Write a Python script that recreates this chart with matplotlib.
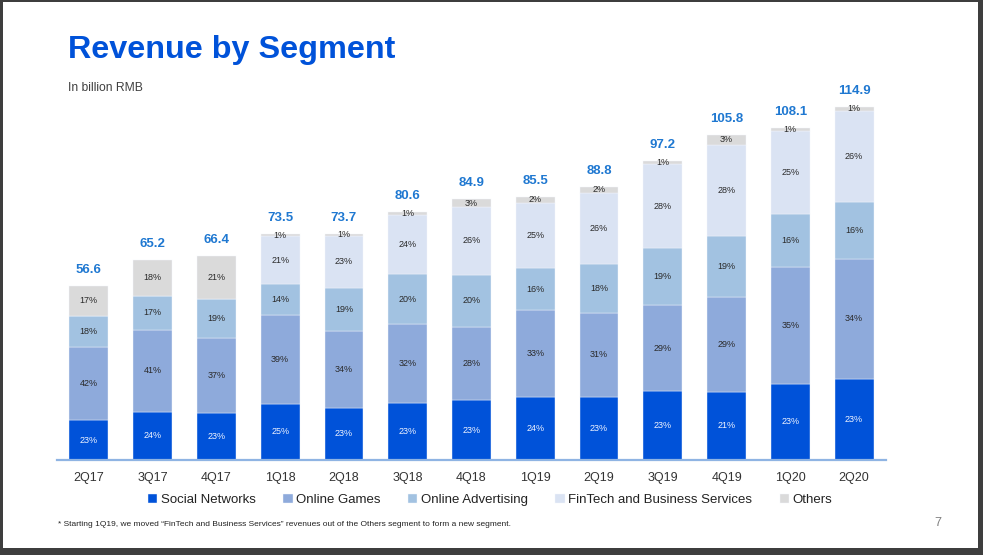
import numpy as np
import matplotlib
matplotlib.use('Agg')
import matplotlib.pyplot as plt
from matplotlib.patches import Rectangle

plt.rcParams['font.family'] = ['Liberation Sans', 'DejaVu Sans']

quarters = ['2Q17', '3Q17', '4Q17', '1Q18', '2Q18', '3Q18', '4Q18',
            '1Q19', '2Q19', '3Q19', '4Q19', '1Q20', '2Q20']
totals = [56.6, 65.2, 66.4, 73.5, 73.7, 80.6, 84.9,
          85.5, 88.8, 97.2, 105.8, 108.1, 114.9]

segments = ['Social Networks', 'Online Games', 'Online Advertising',
            'FinTech and Business Services', 'Others']
social = [23, 24, 23, 25, 23, 23, 23, 24, 23, 23, 21, 23, 23]
games = [42, 41, 37, 39, 34, 32, 28, 33, 31, 29, 29, 35, 34]
advert = [18, 17, 19, 14, 19, 20, 20, 16, 18, 19, 19, 16, 16]
fintech = [0, 0, 0, 21, 23, 24, 26, 25, 26, 28, 28, 25, 26]
others = [17, 18, 21, 1, 1, 1, 3, 2, 2, 1, 3, 1, 1]

colors = ['#0052d9', '#8eaadb', '#a2c2e1', '#dae3f3', '#dadada']
text_colors = ['#f0f4ff', '#2a2a2a', '#2a2a2a', '#2a2a2a', '#2a2a2a']

fig = plt.figure(figsize=(9.83, 5.55), dpi=100, facecolor='#3e3e3e')
fig.patches.append(Rectangle((3 / 983, 7 / 555), 975 / 983, 546 / 555,
                             transform=fig.transFigure, facecolor='white',
                             edgecolor='none', zorder=-10))

ax = fig.add_axes([57 / 983, 95 / 555, 829 / 983, 384 / 555])
ax.set_facecolor('none')
ax.set_zorder(2)

x = np.arange(len(quarters))
tot = np.array(totals)
bottom = np.zeros(len(quarters))
for name, pct, c, tc in zip(segments, [social, games, advert, fintech, others],
                            colors, text_colors):
    pct = np.array(pct, dtype=float)
    h = tot * pct / 100
    ax.bar(x, h, 0.61, bottom=bottom, color=c, edgecolor='#f3f6fc',
           linewidth=0.3, label=name)
    for xi, b, hi, p in zip(x, bottom, h, pct):
        if p > 0:
            ax.text(xi, b + hi / 2, f'{int(p)}%', ha='center', va='center',
                    fontsize=6.5, color=tc)
    bottom += h

for xi, t in zip(x, totals):
    ax.annotate(f'{t:.1f}', (xi, t), xytext=(0, 11.5), textcoords='offset points',
                ha='center', va='center', fontsize=9.5, fontweight='bold',
                color='#1f78d1')

ax.set_xlim(-0.5, 12.5)
ax.set_ylim(0, 125)
ax.set_xticks(x)
ax.set_xticklabels(quarters, fontsize=9, color='#333333')
ax.tick_params(axis='x', length=0, pad=9)
ax.set_yticks([])
for s in ['top', 'right', 'left']:
    ax.spines[s].set_visible(False)
ax.spines['bottom'].set_color('#8fb4e3')
ax.spines['bottom'].set_linewidth(1.6)

fig.text(68 / 983, 1 - 50 / 555, 'Revenue by Segment', fontsize=23.3,
         fontweight='bold', color='#0052d9', va='center', ha='left')
fig.text(68 / 983, 1 - 88 / 555, 'In billion RMB', fontsize=8.7,
         color='#404040', va='center', ha='left')

leg = fig.legend(loc='center', bbox_to_anchor=(0.4985, 1 - 500 / 555), ncol=5,
                 frameon=False, fontsize=9.5, handlelength=0.7, handleheight=0.7,
                 handletextpad=0.25, columnspacing=2.1)
for t in leg.get_texts():
    t.set_color('#222222')

fig.text(58 / 983, 1 - 525 / 555,
         '* Starting 1Q19, we moved \u201cFinTech and Business Services\u201d revenues '
         'out of the Others segment to form a new segment.',
         fontsize=6, color='#222222', va='center', ha='left')
fig.text(938 / 983, 1 - 523 / 555, '7', fontsize=9, color='#808080',
         va='center', ha='center')

fig.savefig('out.png', dpi=100, facecolor=fig.get_facecolor())
